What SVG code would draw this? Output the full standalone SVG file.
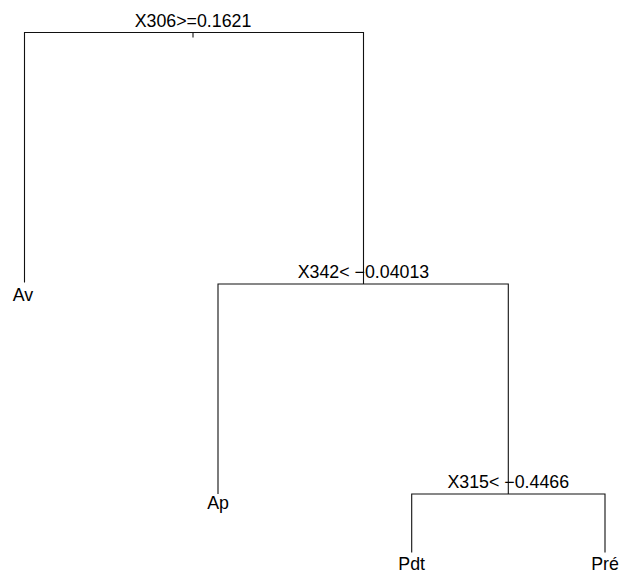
<svg xmlns="http://www.w3.org/2000/svg" width="621" height="577" viewBox="0 0 621 577">
<style>
.e{stroke:#111;stroke-width:1.1;fill:none}
text{font-family:"Liberation Sans",Arial,Helvetica,sans-serif;font-size:17.8px;fill:#000;text-anchor:middle}
</style>
<rect width="621" height="577" fill="#fff"/>
<g id="connectors">
<path class="e" d="M24.5,282.5 V32.5 H363.5 V284"/>
<path class="e" d="M193,32.5 V37.5"/>
<path class="e" d="M218,494 V284 H508.3 V494"/>
<path class="e" d="M411.7,552.5 V494 H605 V552.5"/>
</g>
<g id="n1"><text x="193" y="27.3">X306&gt;=0.1621</text></g>
<g id="n2"><text x="23" y="300.5">Av</text></g>
<g id="n3"><text x="363.5" y="278.3">X342&lt; −0.04013</text></g>
<g id="n6"><text x="218" y="508.5">Ap</text></g>
<g id="n7"><text x="508.3" y="488.3">X315&lt; −0.4466</text></g>
<g id="n14"><text x="411.7" y="570">Pdt</text></g>
<g id="n15"><text x="605" y="570">Pré</text></g>
</svg>
